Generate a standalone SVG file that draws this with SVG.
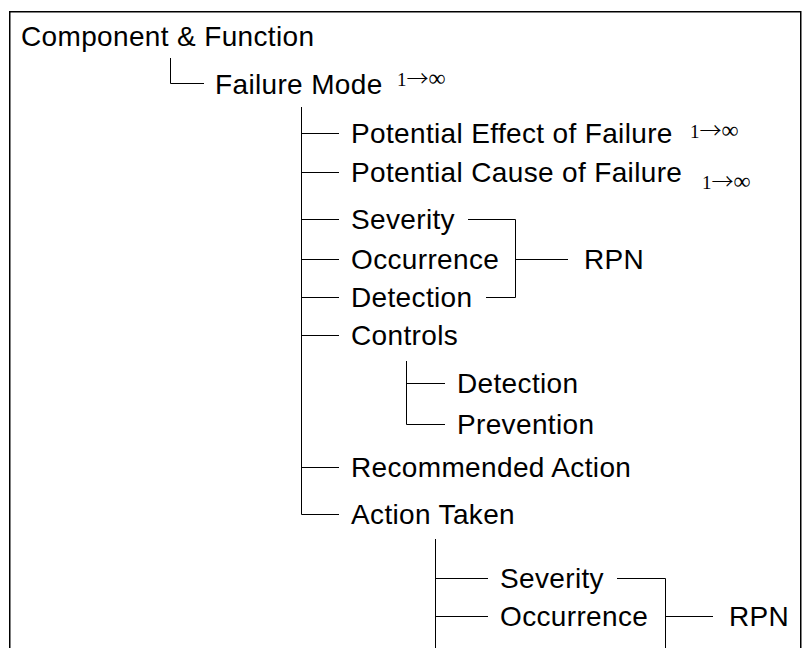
<svg xmlns="http://www.w3.org/2000/svg" width="803" height="648" viewBox="0 0 803 648">
  <style>
    .t { font-family: "Liberation Sans", Arial, sans-serif; font-size: 28px; letter-spacing: 0.35px; fill: #000; }
    .m { font-family: "Liberation Serif", "Times New Roman", serif; font-size: 19px; fill: #000; }
    .a { font-family: "Noto Sans CJK SC", "DejaVu Sans", sans-serif; font-size: 22px; font-weight: 300; }
    .i { font-size: 24px; }
    .c { stroke: #000; stroke-width: 1; fill: none; }
    .frame { stroke: #000; stroke-width: 1.5; fill: #fff; }
  </style>
  <rect x="0" y="0" width="803" height="648" fill="#fff"/>
  <rect class="frame" x="9.75" y="11.75" width="791" height="700"/>

  <g id="connectors">
    <path class="c" d="M170.5 58 V83.5 H204"/>
    <path class="c" d="M301.5 107 V514.5 H339"/>
    <path class="c" d="M301 133.5 H339 M301 172.5 H339 M301 219.5 H339 M301 259.5 H339 M301 297.5 H339 M301 335.5 H339 M301 467.5 H339"/>
    <path class="c" d="M468 219.5 H515.5 V297.5 H486 M515 259.5 H568"/>
    <path class="c" d="M406.5 361 V424.5 H445 M406 383.5 H445"/>
    <path class="c" d="M435.5 539 V660 M435 578.5 H488 M435 616.5 H488"/>
    <path class="c" d="M617 578.5 H665.5 V660 M665 616.5 H713"/>
  </g>

  <g id="n-component"><text class="t" x="21" y="46">Component &amp; Function</text></g>
  <g id="n-failure-mode"><text class="t" x="215" y="94">Failure Mode</text><text class="m" x="397" y="86">1<tspan class="a">→</tspan><tspan class="i">∞</tspan></text></g>
  <g id="n-effect"><text class="t" x="351" y="143">Potential Effect of Failure</text><text class="m" x="690" y="138">1<tspan class="a">→</tspan><tspan class="i">∞</tspan></text></g>
  <g id="n-cause"><text class="t" x="351" y="182">Potential Cause of Failure</text><text class="m" x="702" y="189">1<tspan class="a">→</tspan><tspan class="i">∞</tspan></text></g>
  <g id="n-severity"><text class="t" x="351" y="229">Severity</text></g>
  <g id="n-occurrence"><text class="t" x="351" y="269">Occurrence</text></g>
  <g id="n-detection"><text class="t" x="351" y="307">Detection</text></g>
  <g id="n-rpn"><text class="t" x="584" y="269">RPN</text></g>
  <g id="n-controls"><text class="t" x="351" y="345">Controls</text></g>
  <g id="n-ctrl-detection"><text class="t" x="457" y="393">Detection</text></g>
  <g id="n-ctrl-prevention"><text class="t" x="457" y="434">Prevention</text></g>
  <g id="n-recommended"><text class="t" x="351" y="477">Recommended Action</text></g>
  <g id="n-action-taken"><text class="t" x="351" y="524">Action Taken</text></g>
  <g id="n-severity2"><text class="t" x="500" y="588">Severity</text></g>
  <g id="n-occurrence2"><text class="t" x="500" y="626">Occurrence</text></g>
  <g id="n-rpn2"><text class="t" x="729" y="626">RPN</text></g>
</svg>
